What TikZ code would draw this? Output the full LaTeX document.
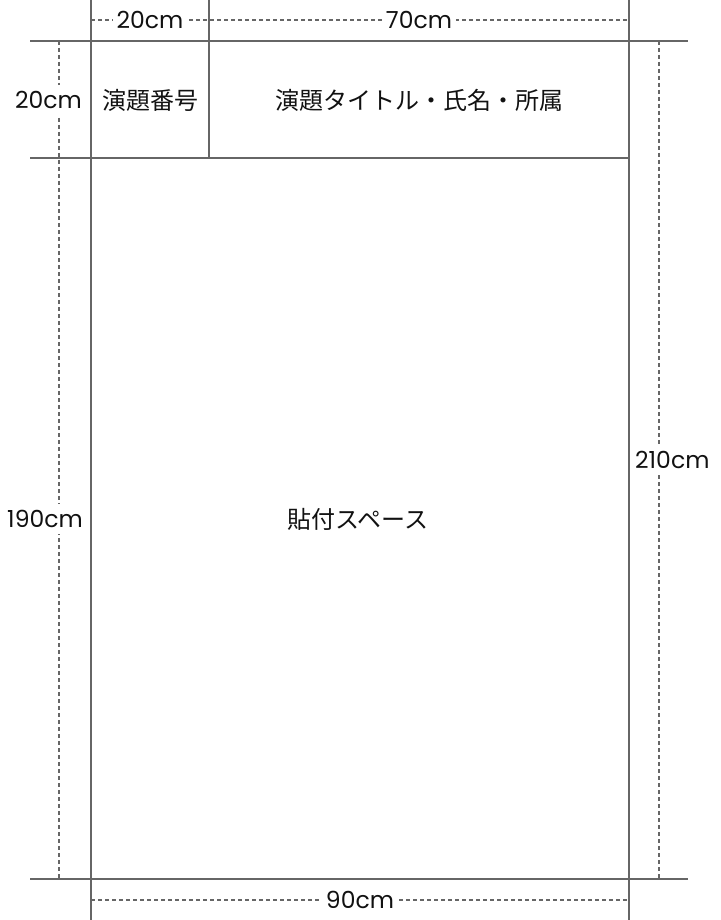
\documentclass[tikz,border=0pt]{standalone}
\usepackage{fontspec}
\newfontfamily\jpfont{Noto Sans CJK JP}
\newfontfamily\dimfont{Poppins}
\definecolor{linegray}{HTML}{666666}
\definecolor{textblack}{HTML}{111111}
\tikzset{
  frame/.style={draw=linegray, line width=2pt},
  dimline/.style={draw=linegray, line width=1.4pt, dash pattern=on 4pt off 3pt},
  dimlabel/.style={fill=white, text=textblack, inner xsep=4pt, inner ysep=6pt, font=\dimfont\fontsize{23.5pt}{24pt}\selectfont},
  jplabel/.style={text=textblack, inner sep=0pt, font=\jpfont\fontsize{24pt}{24pt}\selectfont}
}
\begin{document}
\begin{tikzpicture}[x=1pt,y=-1pt]
\useasboundingbox[fill=white] (0,0) rectangle (720,920);
% frame coordinates
\coordinate (v1t) at (91,0);   \coordinate (v1b) at (91,920);
\coordinate (v2t) at (209,0);  \coordinate (v2b) at (209,158);
\coordinate (v3t) at (629,0);  \coordinate (v3b) at (629,920);
\coordinate (h1l) at (30,41);  \coordinate (h1r) at (688,41);
\coordinate (h2l) at (30,158); \coordinate (h2r) at (629,158);
\coordinate (h3l) at (30,879); \coordinate (h3r) at (688,879);
% dimension coordinates
\coordinate (dtl) at (91,20);  \coordinate (dtr) at (629,20);
\coordinate (dbl) at (91,900); \coordinate (dbr) at (629,900);
\coordinate (dlt) at (59,41);  \coordinate (dlb) at (59,879);
\coordinate (drt) at (659,41); \coordinate (drb) at (659,879);
% dashed dimension lines
\draw[dimline] (dtl) -- (dtr);
\draw[dimline] (dbl) -- (dbr);
\draw[dimline] (dlt) -- (dlb);
\draw[dimline] (drt) -- (drb);
% frame lines
\draw[frame] (v1t) -- (v1b);
\draw[frame] (v2t) -- (v2b);
\draw[frame] (v3t) -- (v3b);
\draw[frame] (h1l) -- (h1r);
\draw[frame] (h2l) -- (h2r);
\draw[frame] (h3l) -- (h3r);
% dimension labels
\node[dimlabel] (w20) at (150,20) {20cm};
\node[dimlabel] (w70) at (419,20) {70cm};
\node[dimlabel] (w90) at (360,900) {90cm};
\node[dimlabel, anchor=east] (h20) at (86,100) {20cm};
\node[dimlabel, anchor=east] (h190) at (87,519) {190cm};
\node[dimlabel, anchor=west] (h210) at (631,460) {210cm};
% content labels
\node[jplabel] (num) at (150,100) {演題番号};
\node[jplabel] (title) at (419,100) {演題タイトル・氏名・所属};
\node[jplabel] (space) at (358,519) {貼付スペース};
\end{tikzpicture}
\end{document}
